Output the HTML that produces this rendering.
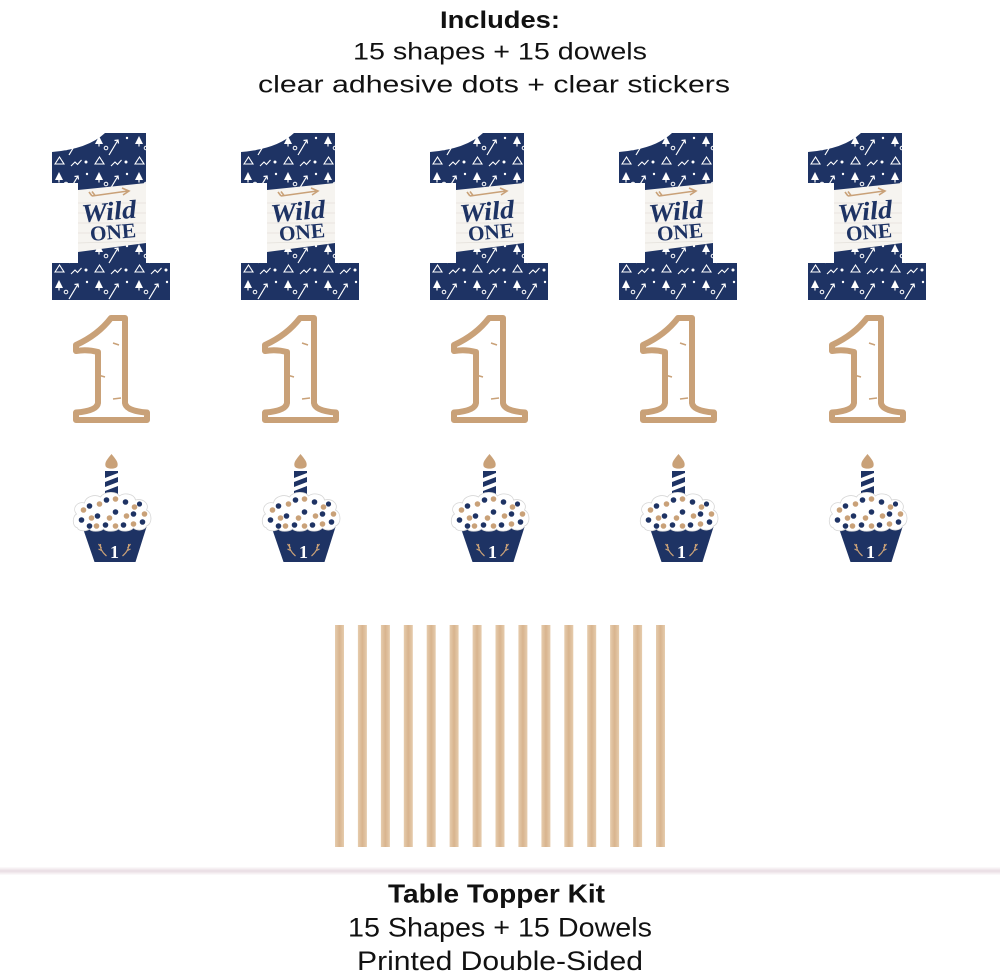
<!DOCTYPE html>
<html><head><meta charset="utf-8"><style>
html,body{margin:0;padding:0;background:#fff;}
svg{display:block;}
text{font-family:"Liberation Sans",Arial,sans-serif;fill:#111;}
</style></head><body>
<svg width="1000" height="978" viewBox="0 0 1000 978" xmlns="http://www.w3.org/2000/svg" xmlns:xlink="http://www.w3.org/1999/xlink">
<defs>
 <pattern id="p" width="40" height="36" patternUnits="userSpaceOnUse">
  <rect width="40" height="36" fill="#1e3364"/>
  <path d="M7 3 L11 11 L3 11 Z" fill="#fff"/>
  <path d="M7 11 V13.5" stroke="#fff" stroke-width="1.2"/>
  <path d="M17 22 L26 7 M22.5 7.5 L26 7 L26.5 10.5" stroke="#fff" stroke-width="1.2" fill="none"/>
  <circle cx="34" cy="29" r="1.5" fill="#fff"/>
  <circle cx="35" cy="5" r="1.2" fill="#fff"/>
  <path d="M3 31 L7.5 24 L12 31 Z" fill="none" stroke="#fff" stroke-width="1.1"/>
  <path d="M19 33 L23 29 L25.5 31.5 L29.5 27" fill="none" stroke="#fff" stroke-width="1.1"/>
  <circle cx="14" cy="15" r="1.8" fill="none" stroke="#fff" stroke-width="1"/>
 </pattern>
 <linearGradient id="dw" x1="0" x2="1" y1="0" y2="0">
  <stop offset="0" stop-color="#e6ccad"/>
  <stop offset="0.5" stop-color="#d8b48e"/>
  <stop offset="1" stop-color="#e6ccad"/>
 </linearGradient>
 <g id="one">
  <path d="M53,0 L94,0 L94,130 L118,130 L118,167 L0,167 L0,130 L26,130 L26,50 L0,50 L0,19 Q36,16 53,0 Z" fill="url(#p)"/>
  <polygon points="26,57 94,50 94,110 26,119" fill="#f6f4f0"/>
  <g stroke="#e4e0da" stroke-width="0.8">
   <line x1="26" y1="70" x2="94" y2="70"/>
   <line x1="26" y1="80" x2="94" y2="80"/>
   <line x1="26" y1="90" x2="94" y2="90"/>
   <line x1="26" y1="100" x2="94" y2="100"/>
   <line x1="26" y1="110" x2="94" y2="108"/>
  </g>
  <g stroke="#c9a178" stroke-width="1.6" fill="none">
   <line x1="40" y1="63" x2="76" y2="58"/>
   <path d="M70 55 L77 58 L71 62"/>
   <path d="M40 63 L37 59 M43 62.5 L40 58.5"/>
  </g>
  <text x="57" y="87" text-anchor="middle" font-style="italic" font-weight="bold" font-size="26" textLength="55" lengthAdjust="spacingAndGlyphs" transform="rotate(-5 57 80)" style="font-family:'Liberation Serif',serif;fill:#1e3364">Wild</text>
  <text x="61" y="106" text-anchor="middle" font-weight="bold" font-size="21" textLength="46" lengthAdjust="spacingAndGlyphs" transform="rotate(-5 61 100)" style="font-family:'Liberation Serif',serif;fill:#1e3364">ONE</text>
 </g>
 <g id="k1">
  <path d="M38,3 L52,3 L52,88 Q53,96 74,97.5 L74,105 L3,105 L3,97.5 Q24,96 25,88 L25,37 Q14,34 3,36 L3,30 Q25,20 38,3 Z" fill="#fff" stroke="#c9a178" stroke-width="6" stroke-linejoin="round"/>
  <g stroke="#c9a178" stroke-width="1.5" fill="none">
   <path d="M40 28 L46 30"/>
   <path d="M25 60 L32 62"/>
   <path d="M40 84 L48 83"/>
  </g>
 </g>
 <g id="cc">
  <path d="M0,0 C4,5 7,8 6,12 C5,15.5 -5,15.5 -6,12 C-7,8 -4,5 0,0 Z" fill="#c9a178"/>
  <rect x="-6.5" y="17" width="13" height="25" fill="#1e3364"/>
  <polygon points="-6.5,24 6.5,19 6.5,23 -6.5,28" fill="#fff"/>
  <polygon points="-6.5,33 6.5,28 6.5,32 -6.5,37" fill="#fff"/>
  <path d="M-29,73 L35,73 L24,108 L-17,108 Z" fill="#1e3364"/>
  <path d="M-34,74 C-40,72 -39,62 -35,60 C-40,54 -34,47 -27,49 C-26,42 -16,40 -11,43 C-7,37 5,37 8,42 C13,38 23,40 24,46 C32,44 38,50 35,56 C41,59 41,70 35,72 C33,77 25,77 22,74 C18,78 10,78 7,75 C3,78 -5,78 -8,75 C-12,78 -20,78 -22,75 C-26,78 -33,77 -34,74 Z" fill="#fff" stroke="#d6d6d6" stroke-width="0.8"/>
  <g fill="#1e3364">
   <circle cx="-22" cy="52" r="2.8"/><circle cx="-5" cy="46" r="2.8"/><circle cx="14" cy="48" r="2.8"/>
   <circle cx="-30" cy="66" r="2.8"/><circle cx="-14" cy="62" r="2.8"/><circle cx="4" cy="58" r="2.8"/>
   <circle cx="22" cy="60" r="2.8"/><circle cx="31" cy="68" r="2.8"/><circle cx="-6" cy="71" r="2.8"/>
   <circle cx="12" cy="71" r="2.8"/><circle cx="-22" cy="72" r="2.8"/><circle cx="28" cy="50" r="2.6"/>
  </g>
  <g fill="#c9a178">
   <circle cx="-28" cy="56" r="2.8"/><circle cx="-12" cy="50" r="2.8"/><circle cx="4" cy="45" r="2.8"/>
   <circle cx="23" cy="53" r="2.8"/><circle cx="-20" cy="64" r="2.8"/><circle cx="-2" cy="64" r="2.8"/>
   <circle cx="15" cy="62" r="2.8"/><circle cx="33" cy="60" r="2.8"/><circle cx="-15" cy="72" r="2.8"/>
   <circle cx="4" cy="72" r="2.8"/><circle cx="22" cy="70" r="2.8"/>
  </g>
  <text x="3" y="104" text-anchor="middle" font-weight="bold" font-size="18" style="font-family:'Liberation Serif',serif;fill:#fff">1</text>
  <g stroke="#c9a178" stroke-width="1.2" fill="none">
   <path d="M-5 102 Q-12 96 -11 90 M-9 97 L-13 95 M-10 94 L-13 90"/>
   <path d="M11 102 Q18 96 17 90 M15 97 L19 95 M16 94 L19 90"/>
  </g>
 </g>
</defs>

<text x="500" y="28" text-anchor="middle" font-size="24" font-weight="bold" textLength="120" lengthAdjust="spacingAndGlyphs">Includes:</text>
<text x="500" y="59.5" text-anchor="middle" font-size="24" textLength="294" lengthAdjust="spacingAndGlyphs">15 shapes + 15 dowels</text>
<text x="494" y="92.5" text-anchor="middle" font-size="24" textLength="472" lengthAdjust="spacingAndGlyphs">clear adhesive dots + clear stickers</text>

<use xlink:href="#one" x="52" y="133"/>
<use xlink:href="#one" x="241" y="133"/>
<use xlink:href="#one" x="430" y="133"/>
<use xlink:href="#one" x="619" y="133"/>
<use xlink:href="#one" x="808" y="133"/>

<use xlink:href="#k1" x="73" y="315"/>
<use xlink:href="#k1" x="262" y="315"/>
<use xlink:href="#k1" x="451" y="315"/>
<use xlink:href="#k1" x="640" y="315"/>
<use xlink:href="#k1" x="829" y="315"/>

<use xlink:href="#cc" x="111.5" y="454"/>
<use xlink:href="#cc" x="300.5" y="454"/>
<use xlink:href="#cc" x="489.5" y="454"/>
<use xlink:href="#cc" x="678.5" y="454"/>
<use xlink:href="#cc" x="867.5" y="454"/>

<g fill="url(#dw)">
 <rect x="335" y="625" width="9" height="222"/>
 <rect x="357.9" y="625" width="9" height="222"/>
 <rect x="380.9" y="625" width="9" height="222"/>
 <rect x="403.8" y="625" width="9" height="222"/>
 <rect x="426.7" y="625" width="9" height="222"/>
 <rect x="449.6" y="625" width="9" height="222"/>
 <rect x="472.6" y="625" width="9" height="222"/>
 <rect x="495.5" y="625" width="9" height="222"/>
 <rect x="518.4" y="625" width="9" height="222"/>
 <rect x="541.4" y="625" width="9" height="222"/>
 <rect x="564.3" y="625" width="9" height="222"/>
 <rect x="587.2" y="625" width="9" height="222"/>
 <rect x="610.1" y="625" width="9" height="222"/>
 <rect x="633.1" y="625" width="9" height="222"/>
 <rect x="656" y="625" width="9" height="222"/>
</g>

<rect x="0" y="867.5" width="1000" height="7" fill="#f6f0f3"/>
<rect x="0" y="869.5" width="1000" height="3" fill="#ebe0e6"/>

<text x="496.5" y="902.5" text-anchor="middle" font-size="26" font-weight="bold" textLength="217" lengthAdjust="spacingAndGlyphs">Table Topper Kit</text>
<text x="500" y="936.5" text-anchor="middle" font-size="26.5" textLength="304" lengthAdjust="spacingAndGlyphs">15 Shapes + 15 Dowels</text>
<text x="500" y="970" text-anchor="middle" font-size="26.5" textLength="286" lengthAdjust="spacingAndGlyphs">Printed Double-Sided</text>
</svg>
</body></html>
